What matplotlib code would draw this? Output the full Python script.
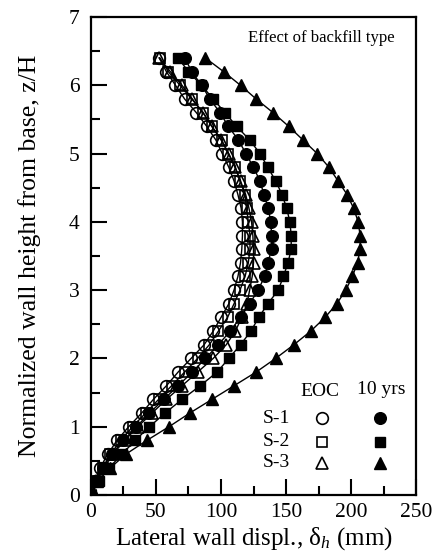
import matplotlib
matplotlib.use("Agg")
import matplotlib.pyplot as plt
import numpy as np

plt.rcParams['font.family'] = ['Liberation Serif', 'DejaVu Serif']
plt.rcParams['mathtext.fontset'] = 'custom'
plt.rcParams['mathtext.rm'] = 'Liberation Serif'
plt.rcParams['mathtext.it'] = 'Liberation Serif:italic'

# Normalized height z/H
z = [0.0, 0.2, 0.4, 0.6, 0.8, 1.0, 1.2, 1.4, 1.6, 1.8, 2.0, 2.2, 2.4, 2.6, 2.8, 3.0,
     3.2, 3.4, 3.6, 3.8, 4.0, 4.2, 4.4, 4.6, 4.8, 5.0, 5.2, 5.4, 5.6, 5.8, 6.0, 6.2, 6.4]

# Lateral displacement (mm), end of construction
s1_eoc = [0, 3, 7, 13, 20, 29, 39, 48, 58, 67, 77, 87, 94, 100, 106, 110,
          113, 115, 116, 116.5, 116.5, 115.5, 113, 110, 106, 101, 96, 89, 81, 72, 65, 58, 52.5]
s2_eoc = [0, 4, 9, 15, 23, 32, 42, 52, 62, 72, 82, 91, 98, 105, 110, 114.6,
          118.5, 121, 122.3, 122.3, 121, 119.7, 118.5, 114.6, 110.8, 105.6, 100.5, 92.8, 86.4, 77.4, 68.5, 59.5, 53]
s3_eoc = [0, 4, 10, 17, 26, 36, 47, 58, 70, 82, 94, 104, 111, 116, 120, 122,
          124, 125, 125, 124.5, 123.5, 121.5, 119, 115, 111, 106, 100, 93, 86, 78, 70, 61, 52.5]

# Lateral displacement (mm), 10 years
s1_10 = [0, 4, 9, 16, 25, 35, 45, 56, 67, 78, 88, 98, 107, 115, 122, 128.5,
         133.6, 136, 139, 139, 138.2, 136.4, 133, 130, 124.9, 119.2, 113.3, 105.6, 99.2, 91.5, 85.1, 77.4, 72.3]
s2_10 = [0, 6, 14, 24, 34, 45, 57, 70, 84, 97, 106, 115, 123, 129, 136, 144,
         148, 151.5, 154, 154, 153, 150.5, 147, 142, 136, 130, 122, 112, 103, 94, 85, 75, 67]
s3_10 = [0, 5, 15, 27, 43, 60, 76, 93, 110, 127, 142, 156, 169, 180, 189, 196,
         201, 205, 207, 207, 205.5, 202, 197, 190, 183, 174, 163, 152, 140, 127, 115, 102, 88]

labels = ['S-1', 'S-2', 'S-3']
col_labels = ['EOC', '10 yrs']

fig = plt.figure(figsize=(4.37, 5.58), dpi=100)
ax = fig.add_axes([0.2082, 0.1129, 0.952 - 0.2082, 0.9695 - 0.1129])

lw = 1.0
mew = 1.2
ms_o, ms_s, ms_t = 8.4, 7.7, 9.2
ax.plot(s3_10, z, color='black', lw=lw, marker='^', ms=ms_t, mfc='black', mec='black', zorder=3)
ax.plot(s2_10, z, color='black', lw=lw, marker='s', ms=ms_s, mfc='black', mec='black', zorder=3)
ax.plot(s1_10, z, color='black', lw=lw, marker='o', ms=ms_o, mfc='black', mec='black', zorder=3)
ax.plot(s3_eoc, z, color='black', lw=lw, marker='^', ms=ms_t, fillstyle='none', mec='black', mew=mew, zorder=4)
ax.plot(s2_eoc, z, color='black', lw=lw, marker='s', ms=ms_s, fillstyle='none', mec='black', mew=mew, zorder=4)
ax.plot(s1_eoc, z, color='black', lw=lw, marker='o', ms=ms_o, fillstyle='none', mec='black', mew=mew, zorder=4)

ax.set_xlim(0, 250)
ax.set_ylim(0, 7)
ax.set_xticks(np.arange(0, 251, 50))
ax.set_xticks(np.arange(25, 250, 50), minor=True)
ax.set_yticks(np.arange(0, 8, 1))
ax.set_yticks(np.arange(0.5, 7, 1), minor=True)

for s in ax.spines.values():
    s.set_linewidth(1.6)
ax.tick_params(which='both', direction='in', top=False, right=False, width=1.5)
ax.tick_params(which='major', length=11.5, labelsize=15.5)
ax.tick_params(axis='x', which='major', pad=6)
ax.tick_params(axis='y', which='major', pad=8)
ax.tick_params(which='minor', length=6.5)

ax.set_xlabel('Lateral wall displ., δ$_h$ (mm)', fontsize=18, labelpad=2)
ax.set_ylabel('Normalized wall height from base, z/H', fontsize=18.5, labelpad=20)

ax.text(0.935, 0.956, 'Effect of backfill type', transform=ax.transAxes,
        ha='right', va='center', fontsize=12)

# Custom legend
ax.text(0.705, 0.2155, col_labels[0], transform=ax.transAxes, ha='center', va='center', fontsize=14)
ax.text(0.892, 0.22, col_labels[1], transform=ax.transAxes, ha='center', va='center', fontsize=14)
rows_y = [0.161, 0.111, 0.067]
mk = ['o', 's', '^']
ms = [ms_o, ms_s, ms_t]
for lab, yy, m, s in zip(labels, rows_y, mk, ms):
    ax.text(0.571, yy, lab, transform=ax.transAxes, ha='center', va='center', fontsize=14)
    ax.plot([0.71], [yy], transform=ax.transAxes, marker=m, ms=s, fillstyle='none',
            mec='black', mew=mew, ls='none', clip_on=False)
    ax.plot([0.889], [yy], transform=ax.transAxes, marker=m, ms=s, mfc='black',
            mec='black', ls='none', clip_on=False)

fig.savefig('out.png', dpi=100)
